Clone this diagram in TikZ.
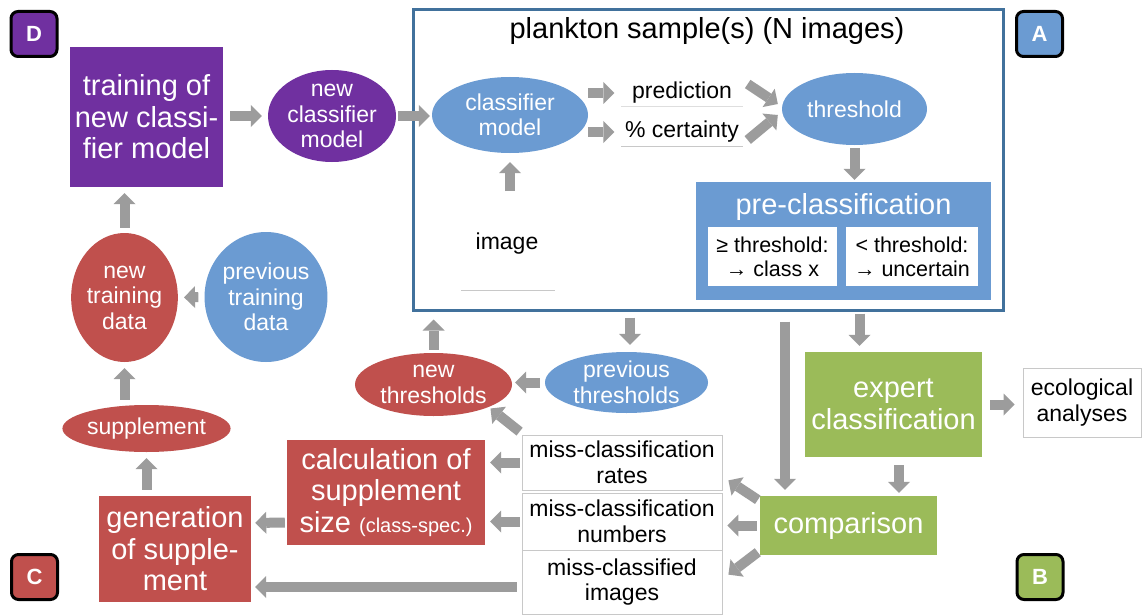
\documentclass[tikz,border=0pt]{standalone}
\usepackage{fontspec}
\setmainfont{Liberation Sans}
\usetikzlibrary{arrows.meta,shapes.geometric,calc}
\definecolor{cpur}{HTML}{7030A0}
\definecolor{cblue}{HTML}{6B9BD2}
\definecolor{cred}{HTML}{C0504D}
\definecolor{cgreen}{HTML}{9BBB59}
\definecolor{cframe}{HTML}{41719C}
\definecolor{arrgray}{HTML}{9C9C9C}
\definecolor{lgray}{HTML}{C8C8C8}
\newcommand\bigf{\fontsize{29}{31.5}\selectfont}
\newcommand\smf{\fontsize{23}{25.5}\selectfont}
\newcommand\tinyf{\fontsize{21.5}{24}\selectfont}
\newcommand\labf{\fontsize{22}{22}\selectfont\bfseries}
\tikzset{
  garrow/.style={draw=arrgray, line width=10pt, -{Triangle[length=11pt,width=22pt,line width=0pt]}},
  lab/.style={draw=black, line width=3pt, rounded corners=7pt, minimum width=46pt, minimum height=45pt, text=white, font=\labf, inner sep=0pt},
  rbox/.style={rectangle, inner sep=0pt, text=white, font=\bigf, align=center},
  ell/.style={ellipse, inner sep=0pt, text=white, font=\smf, align=center},
  plain/.style={inner sep=0pt, text=black, font=\smf, align=center},
  mbox/.style={draw=lgray, line width=0.8pt, inner sep=0pt, minimum width=200pt, text=black, font=\smf, align=center, fill=white},
  subbox/.style={fill=white, inner sep=0pt, minimum height=59pt, text=black, font=\tinyf, align=center},
}
\begin{document}
\begin{tikzpicture}[x=1pt,y=-1pt]
\useasboundingbox[fill=white] (0,0) rectangle (1142,615);

% ---------- frame A ----------
\node[draw=cframe, line width=3pt, minimum width=590pt, minimum height=300pt, inner sep=0pt] (frame) at (708,160) {};
\node[plain, font=\bigf] (title) at (707,31) {plankton sample(s) (N images)};
\node[lab, fill=cblue] (labA) at (1039.5,34) {A};

\node[ell, fill=cblue, minimum width=156pt, minimum height=76pt] (cm) at (510,115) {classifier\\model};
\node[plain, minimum width=121pt, minimum height=26pt] (pred) at (682,93) {prediction};
\node[plain, minimum width=121pt, minimum height=28pt] (cert) at (682,132) {\% certainty};
\draw[lgray!60, line width=0.6pt] (pred.south west) -- (pred.south east);
\draw[lgray, line width=1pt] (cert.south west) -- (cert.south east);
\node[ell, fill=cblue, minimum width=145pt, minimum height=72pt] (thr) at (854.5,109) {threshold};

\node[rbox, fill=cblue, minimum width=295pt, minimum height=118pt] (pre) at (843.5,241) {};
\node[rbox] (pretitle) at (843.5,207) {pre-classification};
\node[subbox, minimum width=129pt] (above) at (772.5,256.5) {≥ threshold:\\ → class x};
\node[subbox, minimum width=132pt] (below) at (912,256.5) {< threshold:\\ → uncertain};

\node[plain] (img) at (507,244) {image};
\draw[lgray, line width=1pt] ($(img.center)+(-46,46)$) -- ($(img.center)+(48,46)$);
\coordinate (imgtop) at (510,191);

\draw[garrow, shorten >=9pt] (imgtop) -- (imgtop |- cm.south);
\draw[garrow, shorten >=7pt] (cm.east |- pred.west) -- (pred.west);
\draw[garrow, shorten >=7pt] (cm.east |- cert.west) -- (cert.west);
\draw[garrow] ($(pred.east)+(5,-9)$) -- ($(thr.west)+(-4,-5)$);
\draw[garrow] ($(cert.east)+(5,8)$) -- ($(thr.west)+(-4,6)$);
\draw[garrow, shorten <=3pt, shorten >=2pt] (thr.south) -- (thr.south |- pre.north);

% ---------- D ----------
\node[lab, fill=cpur] (labD) at (34,34) {D};
\node[rbox, fill=cpur, minimum width=153pt, minimum height=140pt] (train) at (146.5,117) {training of\\new classi-\\fier model};
\node[ell, fill=cpur, minimum width=128pt, minimum height=92pt] (ncm) at (332,116) {new\\classifier\\model};
\draw[garrow, shorten <=7pt, shorten >=6pt] (train.east |- ncm.west) -- (ncm.west);
\draw[garrow, shorten <=2pt, shorten >=2pt] (ncm.east) -- (ncm.east -| cm.west);

% ---------- C ----------
\node[ell, fill=cred, minimum width=99pt, minimum height=129pt] (ntd) at (124.5,297.5) {new\\training\\data};
\node[ell, fill=cblue, minimum width=100pt, minimum height=130pt] (ptd) at (266,297) {previous\\training\\data};
\node[ell, fill=cred, minimum width=151pt, minimum height=47pt] (supp) at (146.5,428.5) {supplement};
\node[rbox, fill=cred, minimum width=152pt, minimum height=106pt] (gen) at (175,549) {generation\\of supple-\\ment};
\node[rbox, fill=cred, minimum width=198pt, minimum height=105pt] (calc) at (386,492.5) {calculation of\\supplement\\size {\fontsize{20}{22}\selectfont (class-spec.)}};
\node[lab, fill=cred] (labC) at (34.5,577) {C};

\draw[garrow, shorten <=5pt, shorten >=6pt] (ntd.north) -- (ntd.north |- train.south);
\draw[garrow, shorten <=6pt, shorten >=6pt] (ptd.west) -- (ntd.east);
\draw[garrow, shorten <=5pt, shorten >=6pt] (ntd.south |- supp.north) -- (ntd.south);
\draw[garrow, shorten <=6pt, shorten >=6pt] (supp.south |- gen.north) -- (supp.south);
\draw[garrow, shorten <=2pt, shorten >=4pt] ($(calc.west)+(0,30)$) -- ($(gen.east)+(0,-26)$);

\node[ell, fill=cred, minimum width=157pt, minimum height=63pt] (nthr) at (433.5,384.5) {new\\thresholds};
\node[ell, fill=cblue, minimum width=163pt, minimum height=61pt] (pthr) at (626.5,382.5) {previous\\thresholds};
\coordinate (pa) at (630,383);
\draw[garrow, shorten <=5pt, shorten >=3pt] (pthr.west) -- (pthr.west -| nthr.east);
\draw[garrow, shorten <=3pt, shorten >=8pt] (nthr.north) -- (nthr.north |- frame.south);
\draw[garrow, shorten <=6pt, shorten >=7pt] (pa |- frame.south) -- (pa |- pthr.north);

\node[mbox, minimum height=55pt] (rates) at (622,462.5) {miss-classification\\rates};
\node[mbox, minimum height=57pt] (nums) at (622,521.5) {miss-classification\\numbers};
\node[mbox, minimum height=64pt] (imgs) at (622,582) {miss-classified\\images};

\draw[garrow] ($(rates.north west)+(-2,-3)$) -- ($(nthr.center)+(57,24)$);
\draw[garrow, shorten <=2pt, shorten >=5pt] (rates.west) -- (rates.west -| calc.east);
\draw[garrow, shorten <=2pt, shorten >=5pt] (nums.west) -- (nums.west -| calc.east);
\draw[garrow] ($(imgs.west)+(-5,5)$) -- ($(gen.east)+(4,38)$);

% ---------- B ----------
\node[rbox, fill=cgreen, minimum width=177pt, minimum height=59pt] (comp) at (848.5,525.5) {comparison};
\node[rbox, fill=cgreen, minimum width=177pt, minimum height=105pt] (expert) at (893.5,404.5) {expert\\classification};
\node[mbox, minimum width=118pt, minimum height=69pt] (eco) at (1082,402.5) {ecological\\analyses};
\node[lab, fill=cgreen] (labB) at (1040,577) {B};

\coordinate (ea) at (859.5,404);
\coordinate (ca) at (785,404);
\coordinate (eb) at (899,404);
\draw[garrow, shorten <=2pt, shorten >=6pt] (ea |- frame.south) -- (ea |- expert.north);
\draw[garrow, shorten <=10pt, shorten >=6pt] (ca |- frame.south) -- (ca |- comp.north);
\draw[garrow, shorten <=8pt, shorten >=3pt] (eb |- expert.south) -- (eb |- comp.north);
\draw[garrow, shorten <=8pt, shorten >=8pt] (expert.east) -- (expert.east -| eco.west);

\draw[garrow] ($(comp.north west)+(-2,4)$) -- ($(rates.south east)+(6,-10)$);
\draw[garrow, shorten <=3pt, shorten >=5pt] (comp.west) -- (comp.west -| nums.east);
\draw[garrow] ($(comp.south west)+(-2,-3)$) -- ($(imgs.north east)+(6,25)$);
\end{tikzpicture}
\end{document}
